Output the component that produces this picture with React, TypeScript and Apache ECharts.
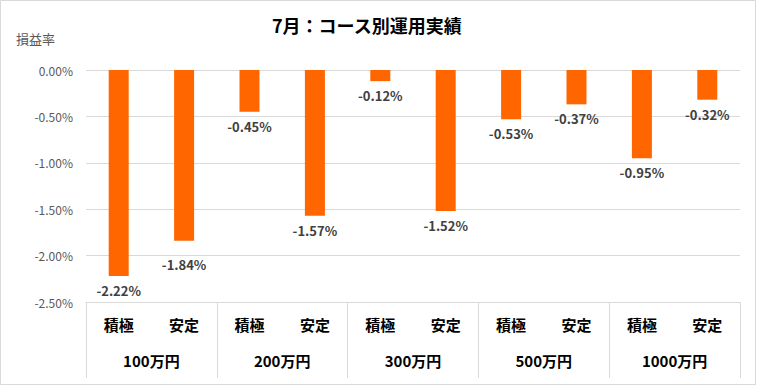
import React, { useEffect, useRef } from "react";
import * as echarts from "echarts";

const courses = ["積極", "安定", "積極", "安定", "積極", "安定", "積極", "安定", "積極", "安定"];
const groups = ["100万円", "200万円", "300万円", "500万円", "1000万円"];
const returns = [-2.22, -1.84, -0.45, -1.57, -0.12, -1.52, -0.53, -0.37, -0.95, -0.32];
const yTicks = { min: -2.5, max: 0, interval: 0.5 };

const FONT = "'Noto Sans CJK JP', 'Noto Sans', sans-serif";

export default function App() {
  const ref = useRef<HTMLDivElement>(null);
  useEffect(() => {
    document.body.style.margin = "0";
    const chart = echarts.init(ref.current!, null, { renderer: "svg" });
    const barData = returns.map((v, i) =>
      i === 1 ? { value: v, label: { offset: [0, 9] } } : { value: v }
    );
    chart.setOption({
      animation: false,
      textStyle: { fontFamily: FONT },
      title: {
        text: "7月：コース別運用実績",
        left: 267,
        top: 11,
        textStyle: { fontSize: 18, fontWeight: "bold", color: "#000", fontFamily: FONT },
      },
      graphic: [
        {
          type: "rect",
          shape: { x: 0.5, y: 0.5, width: 755, height: 384 },
          style: { fill: "none", stroke: "#d9d9d9", lineWidth: 1 },
          silent: true,
        },
        {
          type: "text",
          left: 16,
          top: 32,
          style: { text: "損益率", fontSize: 13, fill: "#595959", fontFamily: FONT },
        },
      ],
      grid: { left: 86, right: 17, top: 70, bottom: 84, containLabel: false },
      xAxis: [
        {
          type: "category",
          data: courses,
          position: "bottom",
          axisLine: { show: true, onZero: false, lineStyle: { color: "#d9d9d9" } },
          axisTick: { show: false },
          axisLabel: { margin: 15, fontSize: 15, fontWeight: "bold", color: "#000", fontFamily: FONT },
        },
        {
          type: "category",
          data: groups,
          position: "bottom",
          offset: 0,
          axisLine: { show: false, onZero: false },
          axisTick: { show: true, length: 76, lineStyle: { color: "#d9d9d9" } },
          axisLabel: { margin: 51, fontSize: 15, fontWeight: "bold", color: "#000", fontFamily: FONT },
        },
      ],
      yAxis: {
        type: "value",
        min: yTicks.min,
        max: yTicks.max,
        interval: yTicks.interval,
        axisLine: { show: false },
        axisTick: { show: false },
        axisLabel: {
          margin: 13,
          fontSize: 12,
          color: "#595959",
          formatter: (v: number) => v.toFixed(2) + "%",
          fontFamily: FONT,
        },
        splitLine: { lineStyle: { color: "#d9d9d9" } },
      },
      series: [
        {
          type: "bar",
          xAxisIndex: 0,
          data: barData,
          barWidth: 20,
          itemStyle: { color: "#FF6600" },
          label: {
            show: true,
            position: "bottom",
            distance: 8,
            fontSize: 13,
            fontWeight: "bold",
            color: "#404040",
            fontFamily: FONT,
            formatter: (p: any) => Number(p.value).toFixed(2) + "%",
          },
        },
      ],
    });
    return () => chart.dispose();
  }, []);
  return <div ref={ref} style={{ width: 757, height: 386 }} />;
}
